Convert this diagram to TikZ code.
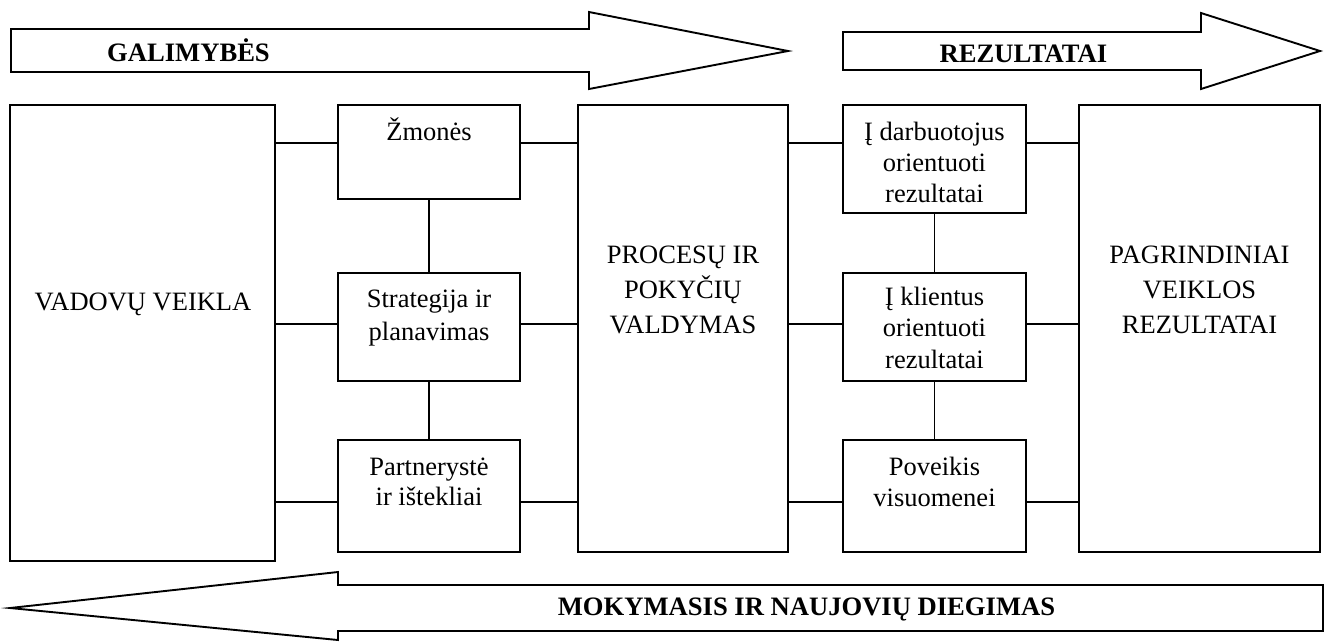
\documentclass[tikz,border=0pt]{standalone}
\usepackage{fontspec}
\setmainfont{Liberation Serif}
\begin{document}
\begin{tikzpicture}[x=1pt,y=-1pt,
  box/.style={draw,line width=1.9pt,inner sep=0pt,outer sep=0pt,fill=white},
  txt/.style={align=center,inner sep=0pt,anchor=base},
  ttl/.style={inner sep=0pt,anchor=base,font=\fontsize{26.6}{30}\selectfont\bfseries},
  conn/.style={line width=1.9pt},
  arr/.style={draw,line width=1.9pt,line join=miter,fill=white}]
\useasboundingbox (0,0) rectangle (1327,641);
% big arrows
\draw[arr] (11,29) -- (589,29) -- (589,12) -- (788,51) -- (589,89) -- (589,72) -- (11,72) -- cycle;
\node[ttl] (gal) at (188.5,61) {GALIMYBĖS};
\draw[arr] (843,32) -- (1201,32) -- (1201,13) -- (1320,51) -- (1201,89) -- (1201,70) -- (843,70) -- cycle;
\node[ttl] (rez) at (1023.5,62) {REZULTATAI};
\draw[arr] (1323,585) -- (338,585) -- (338,572) -- (10,608) -- (338,640) -- (338,631) -- (1323,631) -- cycle;
\node[ttl] (mok) at (806.5,615) {MOKYMASIS IR NAUJOVIŲ DIEGIMAS};
% boxes
\node[box,minimum width=265pt,minimum height=456pt] (vad) at (142.5,333) {};
\node[box,minimum width=182pt,minimum height=94pt]  (zm)  at (429,152) {};
\node[box,minimum width=182pt,minimum height=108pt] (st)  at (429,327) {};
\node[box,minimum width=182pt,minimum height=112pt] (pa)  at (429,496) {};
\node[box,minimum width=210pt,minimum height=447pt] (pr)  at (683,328.5) {};
\node[box,minimum width=183pt,minimum height=108pt] (da)  at (934.5,159) {};
\node[box,minimum width=183pt,minimum height=108pt] (kl)  at (934.5,327) {};
\node[box,minimum width=183pt,minimum height=112pt] (po)  at (934.5,496) {};
\node[box,minimum width=241pt,minimum height=447pt] (pg)  at (1199.5,328.5) {};
% texts (anchor=base is the baseline of the last line)
\node[txt,font=\fontsize{26.5}{35}\selectfont] (vadT) at (143,310) {VADOVŲ VEIKLA};
\node[txt,font=\fontsize{26.5}{33}\selectfont] (zmT) at (429,140) {Žmonės};
\node[txt,font=\fontsize{26.5}{33}\selectfont] (stT) at (429,340) {Strategija ir\\planavimas};
\node[txt,font=\fontsize{26.5}{30}\selectfont] (paT) at (429,505) {Partnerystė\\ir ištekliai};
\node[txt,font=\fontsize{26.5}{35}\selectfont] (prT) at (683,333) {PROCESŲ IR\\POKYČIŲ\\VALDYMAS};
\node[txt,font=\fontsize{26.5}{31}\selectfont] (daT) at (934.5,202) {Į darbuotojus\\orientuoti\\rezultatai};
\node[txt,font=\fontsize{26.5}{31.5}\selectfont] (klT) at (934.5,368) {Į klientus\\orientuoti\\rezultatai};
\node[txt,font=\fontsize{26.5}{31}\selectfont] (poT) at (934.5,506) {Poveikis\\visuomenei};
\node[txt,font=\fontsize{26.5}{35}\selectfont] (pgT) at (1199.5,333) {PAGRINDINIAI\\VEIKLOS\\REZULTATAI};
% row levels
\coordinate (r1) at (0,143);
\coordinate (r2) at (0,324);
\coordinate (r3) at (0,502);
% connectors
\draw[conn] (vad.east |- r1) -- (zm.west |- r1);
\draw[conn] (vad.east |- r2) -- (st.west |- r2);
\draw[conn] (vad.east |- r3) -- (pa.west |- r3);
\draw[conn] (zm.east |- r1) -- (pr.west |- r1);
\draw[conn] (st.east |- r2) -- (pr.west |- r2);
\draw[conn] (pa.east |- r3) -- (pr.west |- r3);
\draw[conn] (pr.east |- r1) -- (da.west |- r1);
\draw[conn] (pr.east |- r2) -- (kl.west |- r2);
\draw[conn] (pr.east |- r3) -- (po.west |- r3);
\draw[conn] (da.east |- r1) -- (pg.west |- r1);
\draw[conn] (kl.east |- r2) -- (pg.west |- r2);
\draw[conn] (po.east |- r3) -- (pg.west |- r3);
\draw[conn] (zm.south) -- (st.north);
\draw[conn] (st.south) -- (pa.north);
\draw[conn] (da.south) -- (kl.north);
\draw[conn] (kl.south) -- (po.north);
\end{tikzpicture}
\end{document}
